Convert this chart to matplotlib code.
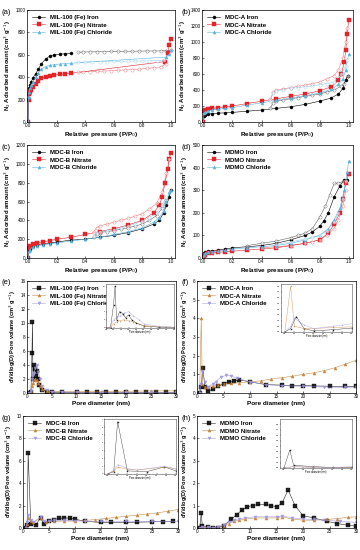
import matplotlib
matplotlib.use("Agg")
from matplotlib import pyplot as plt

plt.rcParams['font.family'] = ['Liberation Sans', 'DejaVu Sans']

# ---------------- isotherm data (relative pressure, cm3/g) ----------------
# (a) MIL-100 (Fe)
a_iron_p_ads = [0.0, 0.002, 0.005, 0.01, 0.02, 0.03, 0.05, 0.07, 0.09, 0.12, 0.15, 0.18, 0.22, 0.26, 0.3]
a_iron_v_ads = [0, 250, 300, 330, 360, 390, 430, 470, 520, 560, 590, 600, 605, 610, 612]
a_iron_p_des = [1.0, 0.97, 0.93, 0.88, 0.83, 0.78, 0.73, 0.68, 0.63, 0.58, 0.53, 0.48, 0.43, 0.38, 0.35]
a_iron_v_des = [640, 636, 635, 634, 634, 633, 632, 632, 631, 630, 628, 627, 626, 625, 622]
a_nit_p_ads = [0.0, 0.002, 0.005, 0.01, 0.02, 0.03, 0.05, 0.07, 0.09, 0.12, 0.15, 0.18, 0.22, 0.26, 0.3, 0.96, 0.98, 0.99, 1.0]
a_nit_v_ads = [0, 200, 250, 270, 290, 310, 340, 370, 390, 405, 412, 418, 425, 430, 435, 540, 620, 690, 740]
a_nit_p_des = [0.97, 0.93, 0.88, 0.83, 0.78, 0.73, 0.68, 0.63, 0.58, 0.53, 0.48, 0.43, 0.38, 0.35]
a_nit_v_des = [520, 492, 485, 478, 472, 468, 465, 462, 458, 455, 452, 450, 448, 445]
a_chl_p_ads = [0.0, 0.002, 0.005, 0.01, 0.02, 0.03, 0.05, 0.07, 0.09, 0.12, 0.15, 0.18, 0.22, 0.26, 0.3, 0.97, 0.99, 1.0]
a_chl_v_ads = [0, 220, 270, 300, 330, 360, 400, 440, 470, 495, 505, 512, 518, 522, 525, 580, 610, 640]
a_chl_p_des = [0.95, 0.9, 0.85, 0.8, 0.75, 0.7, 0.65, 0.6, 0.55, 0.5, 0.45, 0.4, 0.35]
a_chl_v_des = [552, 548, 546, 545, 544, 543, 542, 541, 540, 539, 538, 536, 533]

# (b) MDC-A
b_iron_p_ads = [0.0, 0.005, 0.01, 0.03, 0.06, 0.1, 0.15, 0.2, 0.3, 0.4, 0.5, 0.6, 0.7, 0.8, 0.88, 0.93, 0.96, 0.98, 0.995]
b_iron_v_ads = [0, 70, 90, 100, 105, 110, 115, 120, 135, 150, 170, 190, 220, 260, 300, 350, 420, 530, 580]
b_iron_p_des = [0.995, 0.97, 0.95, 0.9, 0.85, 0.8, 0.75, 0.7, 0.65, 0.6, 0.55, 0.5, 0.48, 0.46]
b_iron_v_des = [580, 480, 450, 400, 375, 350, 335, 320, 305, 290, 275, 262, 240, 175]
b_nit_p_ads = [0.0, 0.005, 0.01, 0.03, 0.06, 0.1, 0.15, 0.2, 0.3, 0.4, 0.5, 0.6, 0.7, 0.8, 0.88, 0.93, 0.95, 0.97, 0.98, 0.99, 1.0]
b_nit_v_ads = [0, 140, 150, 160, 170, 180, 190, 200, 230, 260, 290, 320, 350, 390, 440, 520, 600, 750, 900, 1100, 1270]
b_nit_p_des = [0.99, 0.98, 0.96, 0.93, 0.9, 0.85, 0.8, 0.75, 0.7, 0.65, 0.6, 0.55, 0.5, 0.48, 0.46]
b_nit_v_des = [1180, 1000, 800, 650, 580, 540, 500, 480, 460, 445, 430, 415, 400, 370, 285]
b_chl_p_ads = [0.0, 0.005, 0.01, 0.03, 0.06, 0.1, 0.15, 0.2, 0.3, 0.4, 0.5, 0.6, 0.7, 0.8, 0.88, 0.93, 0.96, 0.98, 1.0]
b_chl_v_ads = [0, 110, 125, 140, 150, 160, 170, 180, 210, 240, 270, 300, 330, 360, 410, 470, 540, 650, 850]
b_chl_p_des = [0.99, 0.98, 0.95, 0.9, 0.85, 0.8, 0.75, 0.7, 0.65, 0.6, 0.55, 0.5, 0.48, 0.46]
b_chl_v_des = [780, 700, 600, 500, 480, 465, 450, 440, 430, 420, 405, 390, 360, 265]

# (c) MDC-B
c_iron_p_ads = [0.0, 0.005, 0.01, 0.03, 0.06, 0.1, 0.15, 0.2, 0.3, 0.4, 0.5, 0.6, 0.7, 0.8, 0.88, 0.92, 0.95, 0.97, 0.99, 1.0]
c_iron_v_ads = [0, 80, 100, 130, 140, 150, 160, 170, 190, 200, 220, 240, 270, 310, 360, 400, 480, 560, 650, 720]
c_iron_p_des = [0.97, 0.94, 0.9, 0.85, 0.8, 0.75, 0.7, 0.65, 0.6, 0.55, 0.5, 0.48, 0.46]
c_iron_v_des = [620, 530, 450, 400, 360, 340, 320, 305, 290, 280, 270, 255, 220]
c_nit_p_ads = [0.0, 0.005, 0.01, 0.03, 0.06, 0.1, 0.15, 0.2, 0.3, 0.4, 0.5, 0.6, 0.7, 0.8, 0.88, 0.92, 0.94, 0.96, 0.98, 0.99, 1.0]
c_nit_v_ads = [0, 110, 130, 150, 160, 170, 185, 200, 220, 250, 280, 310, 350, 400, 480, 560, 650, 800, 950, 1050, 1120]
c_nit_p_des = [0.99, 0.97, 0.94, 0.9, 0.85, 0.8, 0.75, 0.7, 0.65, 0.6, 0.55, 0.5, 0.48, 0.46]
c_nit_v_des = [1050, 900, 700, 580, 520, 470, 445, 420, 400, 380, 360, 340, 320, 280]
c_chl_p_ads = [0.0, 0.005, 0.01, 0.03, 0.06, 0.1, 0.15, 0.2, 0.3, 0.4, 0.5, 0.6, 0.7, 0.8, 0.88, 0.92, 0.95, 0.97, 0.99, 1.0]
c_chl_v_ads = [0, 70, 90, 120, 130, 140, 150, 160, 180, 200, 220, 250, 280, 320, 380, 430, 500, 600, 700, 720]
c_chl_p_des = [0.97, 0.94, 0.9, 0.85, 0.8, 0.75, 0.7, 0.65, 0.6, 0.55, 0.5, 0.48, 0.46]
c_chl_v_des = [650, 560, 480, 430, 390, 365, 340, 320, 300, 290, 280, 265, 230]

# (d) MDMO
d_iron_p_ads = [0.0, 0.005, 0.01, 0.03, 0.06, 0.1, 0.15, 0.2, 0.3, 0.4, 0.5, 0.6, 0.7, 0.75, 0.8, 0.83, 0.86, 0.9, 0.94, 0.97, 0.99]
d_iron_v_ads = [0, 20, 25, 30, 32, 35, 40, 45, 50, 55, 65, 80, 100, 115, 140, 165, 200, 270, 320, 345, 345]
d_iron_p_des = [0.97, 0.93, 0.9, 0.87, 0.84, 0.8, 0.75, 0.7, 0.65, 0.6, 0.5, 0.4, 0.3]
d_iron_v_des = [340, 332, 330, 280, 230, 180, 130, 110, 100, 90, 75, 65, 55]
d_nit_p_ads = [0.0, 0.005, 0.01, 0.03, 0.06, 0.1, 0.15, 0.2, 0.3, 0.4, 0.5, 0.6, 0.7, 0.8, 0.86, 0.9, 0.94, 0.96, 0.98, 1.0]
d_nit_v_ads = [0, 10, 15, 20, 22, 25, 28, 30, 35, 40, 45, 55, 65, 80, 110, 150, 200, 260, 330, 370]
d_nit_p_des = [0.98, 0.96, 0.93, 0.9, 0.85, 0.8, 0.75, 0.7, 0.6, 0.5, 0.4]
d_nit_v_des = [300, 230, 170, 130, 100, 80, 72, 65, 55, 50, 45]
d_chl_p_ads = [0.0, 0.005, 0.01, 0.03, 0.06, 0.1, 0.15, 0.2, 0.3, 0.4, 0.5, 0.6, 0.7, 0.8, 0.86, 0.9, 0.94, 0.97, 0.99, 1.0]
d_chl_v_ads = [0, 15, 20, 25, 28, 30, 35, 40, 45, 50, 55, 65, 80, 100, 130, 170, 220, 300, 380, 430]
d_chl_p_des = [0.98, 0.96, 0.93, 0.9, 0.85, 0.8, 0.75, 0.7, 0.6, 0.5]
d_chl_v_des = [340, 260, 200, 160, 120, 100, 92, 85, 70, 60]

# ---------------- pore size distribution data (nm, cm3/g) ----------------
e_iron_d = [0.5, 0.8, 1.0, 1.1, 1.2, 1.4, 1.6, 1.8, 2.0, 2.2, 2.5, 3.0, 4.0, 5.0, 7.0, 10, 12, 14, 16, 18, 20, 22, 24, 26, 28, 30]
e_iron_v = [0, 0.1, 5.7, 10.2, 2.0, 4.0, 3.5, 2.5, 3.2, 2.0, 1.2, 0.5, 0.2, 0.1, 0.1, 0.1, 0.1, 0.1, 0.1, 0.1, 0.1, 0.1, 0.1, 0.1, 0.1, 0.1]
e_nit_d = [0.5, 0.8, 1.0, 1.2, 1.4, 1.7, 2.0, 2.3, 2.7, 3.0, 4.0, 5.0, 7.0, 10, 15, 20, 25, 30]
e_nit_v = [0, 0.2, 1.0, 1.5, 1.8, 2.0, 1.8, 1.5, 1.0, 0.6, 0.3, 0.2, 0.2, 0.2, 0.2, 0.25, 0.3, 0.3]
e_chl_d = [0.5, 0.8, 1.0, 1.2, 1.4, 1.7, 2.0, 2.3, 2.7, 3.0, 4.0, 5.0, 7.0, 10, 15, 20, 25, 30]
e_chl_v = [0, 0.3, 2.0, 2.6, 2.8, 3.6, 4.0, 3.0, 2.0, 1.0, 0.4, 0.2, 0.15, 0.1, 0.1, 0.1, 0.1, 0.1]

f_iron_d = [0.5, 0.8, 1.1, 1.5, 2.0, 3.0, 4.0, 5.0, 6.0, 7.0, 8.0, 10, 13, 16, 18, 20, 22, 25, 28, 30]
f_iron_v = [0, 0.3, 1.35, 0.3, 0.1, 0.2, 0.35, 0.5, 0.6, 0.65, 0.7, 0.6, 0.45, 0.42, 0.4, 0.4, 0.38, 0.36, 0.35, 0.35]
f_nit_d = [0.5, 0.8, 1.0, 1.5, 2.0, 3.0, 4.0, 5.0, 6.5, 8.0, 10, 12, 14, 16, 18, 20, 22, 24, 26, 28, 30]
f_nit_v = [0, 4.0, 0.5, 0.3, 0.3, 0.4, 0.45, 0.5, 0.52, 0.55, 0.6, 0.65, 0.75, 0.82, 0.9, 1.0, 1.08, 1.2, 1.35, 1.55, 1.75]
f_chl_d = [0.5, 0.8, 1.0, 1.5, 2.0, 3.0, 3.5, 4.5, 5.5, 6.5, 7.5, 10, 13, 16, 20, 24, 28, 30]
f_chl_v = [0, 0.5, 1.2, 0.6, 0.3, 0.5, 0.6, 0.85, 0.95, 0.92, 0.8, 0.6, 0.45, 0.4, 0.35, 0.32, 0.3, 0.3]

g_iron_d = [0.5, 0.8, 1.0, 1.5, 2.5, 3.4, 4.0, 5.0, 6.0, 7.0, 8.0, 9.0, 10, 12, 15, 17, 20, 22, 25, 27, 29]
g_iron_v = [0, 0.3, 6.7, 0.4, 0.3, 0.9, 0.4, 0.6, 0.75, 0.85, 0.9, 0.88, 0.8, 0.6, 0.5, 0.5, 0.5, 0.52, 0.55, 0.58, 0.6]
g_nit_d = [0.5, 0.8, 1.0, 1.5, 2.0, 3.4, 4.5, 6.0, 8.0, 10, 12, 14, 16, 18, 20, 22, 24, 26, 28, 30]
g_nit_v = [0, 0.4, 0.9, 0.6, 0.5, 0.9, 0.5, 0.6, 0.62, 0.62, 0.68, 0.75, 0.85, 0.95, 1.05, 1.15, 1.25, 1.35, 1.5, 1.65]
g_chl_d = [0.5, 0.8, 1.0, 1.5, 2.0, 3.4, 4.0, 5.0, 6.0, 8.0, 10, 12, 15, 20, 25, 30]
g_chl_v = [0, 0.5, 1.2, 0.7, 0.5, 1.0, 0.6, 0.6, 0.7, 0.7, 0.65, 0.6, 0.6, 0.6, 0.6, 0.6]

h_iron_d = [0.5, 0.8, 1.0, 2.0, 3.0, 4.0, 5.0, 6.5, 7.5, 8.5, 9.5, 10.5, 11.5, 13, 14, 15, 16, 17.2, 18.5, 20, 22, 24.5, 26.5, 28.5, 30]
h_iron_v = [0, 0.65, 0.1, 0.05, 0.02, 0.02, 0.1, 0.4, 0.6, 0.8, 0.95, 1.0, 1.05, 1.05, 1.0, 0.95, 1.1, 1.7, 1.0, 0.55, 0.45, 0.3, 0.2, 0.12, 0.08]
h_nit_d = [0.5, 1.0, 2.0, 3.0, 4.0, 5.0, 6.0, 7.0, 8.0, 9.0, 11, 13, 15, 16, 18, 20, 22, 24.5, 26.5, 28.5, 30]
h_nit_v = [0, 0.05, 0.02, 0.0, 0.02, 0.1, 0.2, 0.3, 0.35, 0.4, 0.45, 0.45, 0.45, 0.5, 0.4, 0.35, 0.35, 0.38, 0.42, 0.48, 0.5]
h_chl_d = [0.5, 1.0, 2.0, 3.0, 4.0, 5.0, 6.0, 7.0, 8.0, 9.0, 11, 13, 15, 16, 18, 20, 22, 24, 27, 30]
h_chl_v = [0, 0.05, 0.03, 0.02, 0.05, 0.15, 0.25, 0.35, 0.42, 0.45, 0.5, 0.5, 0.5, 0.55, 0.45, 0.4, 0.38, 0.35, 0.3, 0.25]

iso_colors = ['black', '#e5232a', '#5ab4e0']
iso_markers = ['o', 's', '^']
psd_colors = ['black', '#c07a2c', '#9c94e0']
psd_markers = ['s', '^', 'v']

fig = plt.figure(figsize=(3.6, 5.5), dpi=100)
W, H = 360.0, 550.0


def add_ax(l, r, t, b):
    return fig.add_axes([l / W, 1 - b / H, (r - l) / W, (b - t) / H])


def style(ax, fs=3.3):
    ax.tick_params(direction='in', length=1.5, width=0.4, labelsize=fs, pad=1)
    for s in ax.spines.values():
        s.set_linewidth(0.5)


def panel_letter(rect, letter):
    x = 2 if rect[0] < 100 else 181
    fig.text(x / W, 1 - (rect[2] + 2) / H, letter, fontsize=5.5, va='center')


def iso_panel(rect, letter, names, series, ymax, ystep):
    ax = add_ax(*rect)
    for (pa, va, pd, vd), name, c, m in zip(series, names, iso_colors, iso_markers):
        ax.plot(pa, va, '-', color=c, lw=0.4, marker=m, ms=2.2, mew=0.3, label=name)
        ax.plot(pd, vd, '-', color=c, lw=0.4, alpha=0.6, marker='o', ms=2.3,
                mfc='white', mec=c, mew=0.3)
    ax.set_xlim(-0.01, 1.03)
    ax.set_ylim(0, ymax)
    ax.set_xticks([0, 0.2, 0.4, 0.6, 0.8, 1.0])
    ax.set_xticklabels(['0.0', '0.2', '0.4', '0.6', '0.8', '1.0'])
    ax.set_yticks(range(0, ymax + 1, ystep))
    style(ax)
    ax.set_xlabel('Relative pressure (P/P$_0$)', fontsize=4.6, fontweight='bold', labelpad=1.5)
    ax.set_ylabel('N$_2$ Adsorbed amount (cm$^3$ g$^{-1}$)', fontsize=4.3, fontweight='bold', labelpad=2)
    ax.legend(loc='upper left', frameon=False, prop={'size': 4.4, 'weight': 'bold'},
              handlelength=2.2, borderaxespad=0.4, labelspacing=0.35, handletextpad=0.8)
    panel_letter(rect, letter)
    return ax


def psd_panel(rect, letter, names, series, ymax, ystep, inset_rect, inset_xlim):
    ax = add_ax(*rect)
    for (d, v), name, c, m in zip(series, names, psd_colors, psd_markers):
        ax.plot(d, v, '-', color=c, lw=0.4, marker=m, ms=2.2, mew=0.3, alpha=0.85, label=name)
    ax.set_xlim(0, 30)
    ax.set_ylim(0, ymax)
    ax.set_xticks(range(0, 31, 5))
    ax.set_yticks(range(0, ymax + 1, ystep))
    style(ax)
    ax.set_xlabel('Pore diameter (nm)', fontsize=4.6, fontweight='bold', labelpad=1.5)
    ax.set_ylabel('dV/dlog(D) Pore volume (cm$^3$ g$^{-1}$)', fontsize=4.1, fontweight='bold', labelpad=2)
    ax.legend(loc='upper left', frameon=False, prop={'size': 4.4, 'weight': 'bold'},
              handlelength=2.2, borderaxespad=0.4, labelspacing=0.35, handletextpad=0.8)
    panel_letter(rect, letter)

    ins = add_ax(*inset_rect)
    for (d, v), c, m in zip(series, psd_colors, psd_markers):
        ins.plot(d, v, '-', color=c, lw=0.3, marker=m, ms=0.8, mew=0.2, alpha=0.8)
    ins.set_xlim(*inset_xlim)
    ins.set_ylim(bottom=0)
    ins.tick_params(direction='in', length=0.8, width=0.3, labelsize=1.6, pad=0.5)
    for s in ins.spines.values():
        s.set_linewidth(0.4)
        s.set_color('#555555')
    ins.set_xlabel('Pore diameter (nm)', fontsize=1.8, labelpad=0.5)
    return ax


iso_panel((27, 175, 10, 122), '(a)',
          ['MIL-100 (Fe) Iron', 'MIL-100 (Fe) Nitrate', 'MIL-100 (Fe) Chloride'],
          [(a_iron_p_ads, a_iron_v_ads, a_iron_p_des, a_iron_v_des),
           (a_nit_p_ads, a_nit_v_ads, a_nit_p_des, a_nit_v_des),
           (a_chl_p_ads, a_chl_v_ads, a_chl_p_des, a_chl_v_des)], 1000, 200)
iso_panel((202, 353, 10, 122), '(b)',
          ['MDC-A Iron', 'MDC-A Nitrate', 'MDC-A Chloride'],
          [(b_iron_p_ads, b_iron_v_ads, b_iron_p_des, b_iron_v_des),
           (b_nit_p_ads, b_nit_v_ads, b_nit_p_des, b_nit_v_des),
           (b_chl_p_ads, b_chl_v_ads, b_chl_p_des, b_chl_v_des)], 1400, 200)
iso_panel((27, 175, 145, 258), '(c)',
          ['MDC-B Iron', 'MDC-B Nitrate', 'MDC-B Chloride'],
          [(c_iron_p_ads, c_iron_v_ads, c_iron_p_des, c_iron_v_des),
           (c_nit_p_ads, c_nit_v_ads, c_nit_p_des, c_nit_v_des),
           (c_chl_p_ads, c_chl_v_ads, c_chl_p_des, c_chl_v_des)], 1200, 200)
iso_panel((202, 353, 145, 258), '(d)',
          ['MDMO Iron', 'MDMO Nitrate', 'MDMO Chloride'],
          [(d_iron_p_ads, d_iron_v_ads, d_iron_p_des, d_iron_v_des),
           (d_nit_p_ads, d_nit_v_ads, d_nit_p_des, d_nit_v_des),
           (d_chl_p_ads, d_chl_v_ads, d_chl_p_des, d_chl_v_des)], 500, 100)

psd_panel((27, 176, 281, 393), '(e)',
          ['MIL-100 (Fe) Iron', 'MIL-100 (Fe) Nitrate', 'MIL-100 (Fe) Chloride'],
          [(e_iron_d, e_iron_v), (e_nit_d, e_nit_v), (e_chl_d, e_chl_v)], 16, 2,
          (106, 174, 284, 328), (0.5, 5))
psd_panel((197, 356, 281, 393), '(f)',
          ['MDC-A Iron', 'MDC-A Nitrate', 'MDC-A Chloride'],
          [(f_iron_d, f_iron_v), (f_nit_d, f_nit_v), (f_chl_d, f_chl_v)], 6, 1,
          (281, 352, 284, 332), (0.3, 4))
psd_panel((23, 178, 416, 528), '(g)',
          ['MDC-B Iron', 'MDC-B Nitrate', 'MDC-B Chloride'],
          [(g_iron_d, g_iron_v), (g_nit_d, g_nit_v), (g_chl_d, g_chl_v)], 10, 2,
          (104, 176, 419, 474), (0.3, 4))
psd_panel((197, 356, 416, 528), '(h)',
          ['MDMO Iron', 'MDMO Nitrate', 'MDMO Chloride'],
          [(h_iron_d, h_iron_v), (h_nit_d, h_nit_v), (h_chl_d, h_chl_v)], 5, 1,
          (280, 352, 419, 468), (0.3, 4))

fig.savefig('out.png', dpi=100)
